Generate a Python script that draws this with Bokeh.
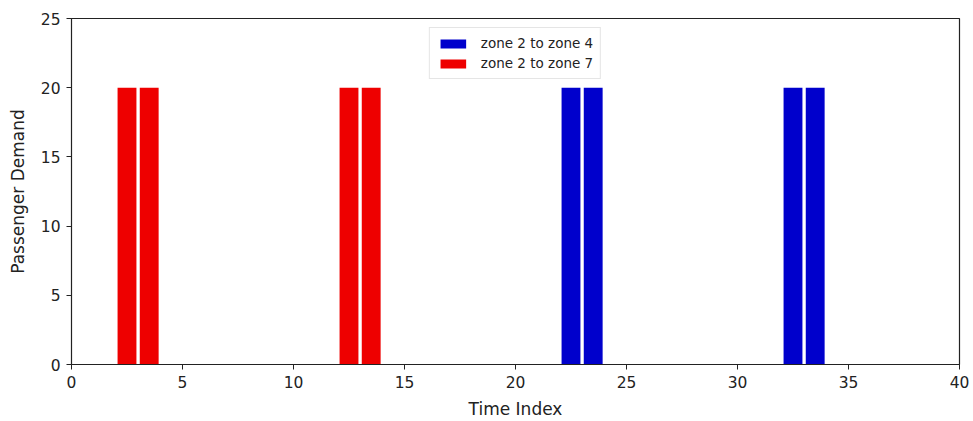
from bokeh.plotting import figure
from bokeh.models import ColumnDataSource, Range1d, SingleIntervalTicker, Legend, LegendItem
from bokeh.embed import file_html
from bokeh.resources import INLINE

# Data
red_times = [2.5, 3.5, 12.5, 13.5]
red_demand = [20, 20, 20, 20]
blue_times = [22.5, 23.5, 32.5, 33.5]
blue_demand = [20, 20, 20, 20]
blue_label = "zone 2 to zone 4"
red_label = "zone 2 to zone 7"
x_ticks = [0, 5, 10, 15, 20, 25, 30, 35, 40]
y_ticks = [0, 5, 10, 15, 20, 25]

FONT = "DejaVu Sans"

p = figure(width=973, height=421, output_backend="svg", toolbar_location=None,
           x_range=Range1d(0, 40), y_range=Range1d(0, 25),
           min_border_left=71, min_border_right=14, min_border_top=18, min_border_bottom=56)
p.xgrid.visible = False
p.ygrid.visible = False
p.outline_line_color = "#222222"
p.outline_line_width = 1.2
p.background_fill_color = "white"
p.border_fill_color = "white"

bw = 0.85
rb = p.vbar(x=blue_times, top=blue_demand, bottom=0, width=bw, fill_color="#0000cc", line_color=None)
rr = p.vbar(x=red_times, top=red_demand, bottom=0, width=bw, fill_color="#ee0000", line_color=None)

for ax in (p.xaxis[0], p.yaxis[0]):
    ax.major_label_text_font = FONT
    ax.major_label_text_font_size = "15.5px"
    ax.major_label_text_color = "#222222"
    ax.axis_label_text_font = FONT
    ax.axis_label_text_font_size = "17px"
    ax.axis_label_text_font_style = "normal"
    ax.axis_label_text_color = "#222222"
    ax.axis_line_color = "#222222"
    ax.major_tick_line_color = "#222222"
    ax.major_tick_out = 5
    ax.major_tick_in = 0
    ax.minor_tick_line_color = None

p.xaxis.ticker = x_ticks
p.yaxis.ticker = y_ticks
p.xaxis.axis_label = "Time Index"
p.yaxis.axis_label = "Passenger Demand"
p.xaxis.axis_label_standoff = 8
p.yaxis.axis_label_standoff = 10
p.xaxis.major_label_standoff = 6
p.yaxis.major_label_standoff = 6

legend = Legend(items=[LegendItem(label=blue_label, renderers=[rb]),
                       LegendItem(label=red_label, renderers=[rr])],
                location="top_center")
legend.label_text_font = FONT
legend.label_text_font_size = "13.5px"
legend.label_text_color = "#222222"
legend.glyph_width = 32
legend.glyph_height = 11
legend.label_standoff = 12
legend.spacing = 4
legend.padding = 7
legend.margin = 9
legend.border_line_color = "#cccccc"
legend.border_line_width = 1
legend.background_fill_alpha = 1
p.add_layout(legend)

open("out.html", "w").write(file_html(p, INLINE))
